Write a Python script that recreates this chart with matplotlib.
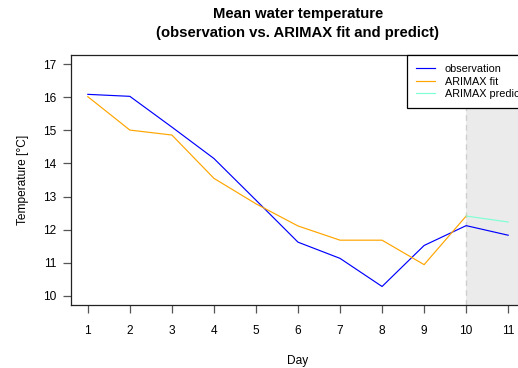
import matplotlib
matplotlib.use("Agg")
import matplotlib.pyplot as plt

plt.rcParams['font.family'] = ['Liberation Sans', 'DejaVu Sans']

# daily mean water temperature
days = [1, 2, 3, 4, 5, 6, 7, 8, 9, 10, 11]
observation = [16.09, 16.03, 15.10, 14.15, 12.89, 11.62, 11.13, 10.28, 11.52, 12.12, 11.83]
fit_days = [1, 2, 3, 4, 5, 6, 7, 8, 9, 10]
arimax_fit = [16.02, 15.01, 14.86, 13.55, 12.78, 12.11, 11.68, 11.68, 10.94, 12.41]
pred_days = [10, 11]
arimax_pred = [12.41, 12.23]
forecast_start = 10

fig = plt.figure(figsize=(5.18, 3.68), dpi=100)
ax = fig.add_axes([71 / 518, 63 / 368, 454 / 518, 250 / 368])

ax.axvspan(forecast_start, 12, color='#ebebeb', lw=0, zorder=0)
ax.axvline(forecast_start, color='#cfcfcf', lw=1.0, ls=(0, (4, 3)), zorder=1)

ax.plot(days, observation, color='blue', lw=0.85, label='observation', zorder=3)
ax.plot(fit_days, arimax_fit, color='orange', lw=0.85, label='ARIMAX fit', zorder=3)
ax.plot(pred_days, arimax_pred, color='aquamarine', lw=0.85, label='ARIMAX predict', zorder=3)

ax.set_xlim(0.6, 11.4)
ax.set_ylim(9.72, 17.28)
ax.set_xticks(days)
ax.set_yticks(range(10, 18))

for s in ax.spines.values():
    s.set_linewidth(0.9)
    s.set_color('#222222')
ax.tick_params(axis='both', length=5.5, width=0.9, color='#555555', labelsize=8.6)
ax.tick_params(axis='x', pad=9)
ax.tick_params(axis='y', pad=5)

ax.set_xlabel('Day', fontsize=8.6, labelpad=13)
ax.set_ylabel('Temperature [°C]', fontsize=8.6, labelpad=10)

fig.text(298 / 518, 1 - 14 / 368, 'Mean water temperature', ha='center', va='center',
         fontsize=10.7, fontweight='bold')
fig.text(298 / 518, 1 - 33 / 368, '(observation vs. ARIMAX fit and predict)', ha='center',
         va='center', fontsize=10.7, fontweight='bold')

# legend pinned to the top of the plot, running off the right side
leg = ax.legend(loc='upper left', bbox_to_anchor=((407 - 71) / 454, 1), borderaxespad=0,
                fontsize=7.8, frameon=True, fancybox=False, handlelength=1.75,
                handletextpad=0.9, labelspacing=0.22, borderpad=0.85)
leg.get_frame().set_edgecolor('black')
leg.get_frame().set_linewidth(0.9)
leg.get_frame().set_facecolor('white')
leg.get_frame().set_alpha(1)

fig.savefig('out.png', dpi=100)
